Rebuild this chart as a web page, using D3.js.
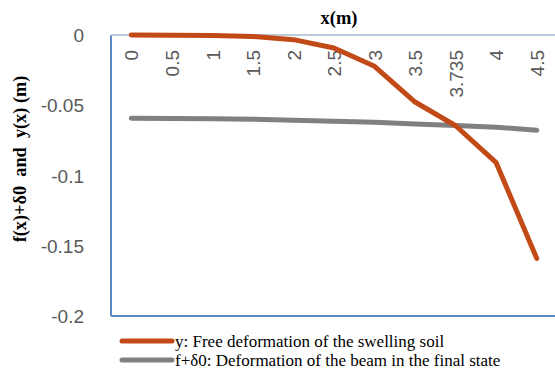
<!DOCTYPE html>
<html>
<head>
<meta charset="utf-8">
<script src="https://cdn.jsdelivr.net/npm/d3@7"></script>
<style>
  html, body { margin: 0; padding: 0; background: #fff; }
  svg { display: block; }
</style>
</head>
<body>
<svg id="chart" width="555" height="376"></svg>
<script>
// Positions along the beam (m), shown as categories on the top axis
const xCategories = ["0", "0.5", "1", "1.5", "2", "2.5", "3", "3.5", "3.735", "4", "4.5"];
// y: free deformation of the swelling soil (m)
const freeDeformation = [0, -0.0002, -0.0004, -0.0010, -0.0033, -0.0093, -0.0223, -0.0477, -0.0646, -0.0909, -0.1590];
// f + δ0: deformation of the beam in the final state (m)
const beamDeformation = [-0.0593, -0.0594, -0.0596, -0.0600, -0.0606, -0.0613, -0.0621, -0.0634, -0.0645, -0.0656, -0.0678];
const yTicks = [0, -0.05, -0.1, -0.15, -0.2];
const legendLabels = [
  "y: Free deformation of the swelling soil",
  "f+δ0: Deformation of the beam in the final state"
];

const svg = d3.select("#chart");
const plot = { left: 111, right: 557, top: 35, bottom: 316 };

const x = d3.scalePoint().domain(xCategories).range([plot.left, plot.right]).padding(0.5);
const y = d3.scaleLinear().domain([-0.2, 0]).range([plot.bottom, plot.top]);

const colors = ["#C24A17", "#808080"];

// Plot area frame
svg.append("line").attr("x1", plot.left).attr("x2", plot.left)
  .attr("y1", plot.top).attr("y2", plot.bottom)
  .attr("stroke", "#5B89C8").attr("stroke-width", 2);
svg.append("line").attr("x1", plot.left).attr("x2", plot.right)
  .attr("y1", plot.bottom).attr("y2", plot.bottom)
  .attr("stroke", "#5B89C8").attr("stroke-width", 2);
svg.append("line").attr("x1", plot.left).attr("x2", plot.right)
  .attr("y1", plot.top).attr("y2", plot.top)
  .attr("stroke", "#BCCBDD").attr("stroke-width", 2);

// Y axis tick labels
const yAxis = d3.axisLeft(y).tickValues(yTicks).tickSize(0).tickPadding(0)
  .tickFormat(d => d === 0 ? "0" : String(d));
const gy = svg.append("g").attr("transform", `translate(84,0)`).call(yAxis);
gy.select(".domain").remove();
gy.selectAll("text")
  .attr("font-family", "Liberation Sans, Arial, sans-serif")
  .attr("font-size", 19).attr("fill", "#595959").attr("dy", "0.35em");

// X axis (categories along the top edge, labels rotated)
const xAxis = d3.axisTop(x).tickSize(0).tickPadding(0);
const gx = svg.append("g").attr("transform", `translate(0,${plot.top})`).call(xAxis);
gx.select(".domain").remove();
gx.selectAll("text")
  .attr("font-family", "Liberation Sans, Arial, sans-serif")
  .attr("font-size", 19).attr("fill", "#595959")
  .attr("text-anchor", "end")
  .attr("transform", "translate(0,15) rotate(-90)")
  .attr("x", 0).attr("y", 0).attr("dy", "0.35em");

// Series lines (beam first, soil curve on top)
const line = d3.line().x((d, i) => x(xCategories[i])).y(d => y(d));
[beamDeformation, freeDeformation].forEach((series, k) => {
  svg.append("path").datum(series)
    .attr("d", line)
    .attr("fill", "none")
    .attr("stroke", colors[1 - k])
    .attr("stroke-width", 5)
    .attr("stroke-linecap", "round")
    .attr("stroke-linejoin", "round");
});

// Axis titles
svg.append("text").attr("x", 339).attr("y", 24)
  .attr("text-anchor", "middle")
  .attr("font-family", "Liberation Serif, Times New Roman, serif")
  .attr("font-weight", "bold").attr("font-size", 18.5)
  .text("x(m)");
svg.append("text")
  .attr("transform", "translate(20,159) rotate(-90)")
  .attr("text-anchor", "middle").attr("dy", "0.35em")
  .attr("font-family", "Liberation Serif, Times New Roman, serif")
  .attr("font-weight", "bold").attr("font-size", 18.3)
  .style("white-space", "pre")
  .text("f(x)+δ0  and  y(x) (m)");

// Legend
const legend = svg.append("g");
legendLabels.forEach((label, k) => {
  const ly = 341 + k * 19;
  legend.append("line").attr("x1", 122).attr("x2", 172)
    .attr("y1", ly).attr("y2", ly)
    .attr("stroke", colors[k]).attr("stroke-width", 5)
    .attr("stroke-linecap", "round");
  legend.append("text").attr("x", 175).attr("y", ly).attr("dy", "0.35em")
    .attr("font-family", "Liberation Serif, Times New Roman, serif")
    .attr("font-size", 17).attr("fill", "#000")
    .text(label);
});
</script>
</body>
</html>
